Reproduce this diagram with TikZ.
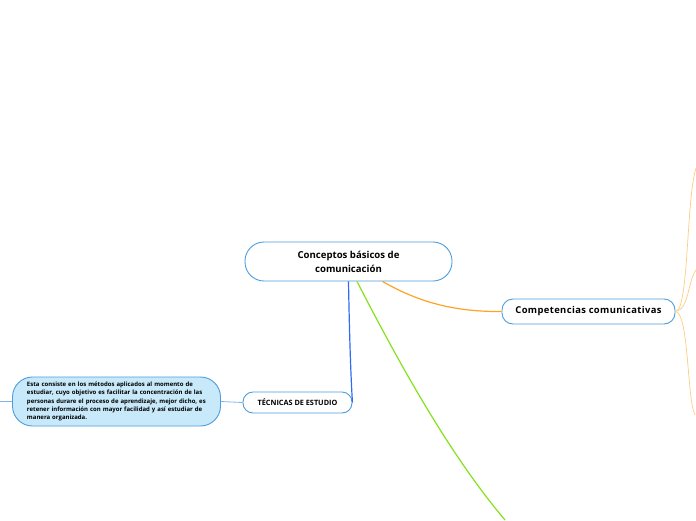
\documentclass[tikz,border=0pt]{standalone}
\usepackage{fontspec}
\setmainfont{Open Sans}
\usetikzlibrary{positioning,calc}

\definecolor{nodeborder}{HTML}{4D9DDE}
\definecolor{notefill}{HTML}{C8E9FA}
\definecolor{orangebranch}{HTML}{FFA226}
\definecolor{orangelight}{HTML}{FFCB82}
\definecolor{greenbranch}{HTML}{84E21C}
\definecolor{bluebranch}{HTML}{2E6CF2}
\definecolor{bluelight}{HTML}{7FB2EE}

\begin{document}
\begin{tikzpicture}[
    x=1pt, y=-1pt,
    topic/.style={draw=nodeborder, line width=0.9pt, fill=white, align=center, inner sep=0pt, font=\bfseries},
    note/.style={draw=nodeborder, line width=0.9pt, fill=notefill, align=left, inner sep=0pt, rounded corners=20pt, font=\fontsize{6}{8.4}\selectfont\bfseries},
    link/.style={draw, line width=1.2pt}
]
\useasboundingbox (0,0) rectangle (696,520);

\node[topic, rounded corners=19pt, minimum width=207pt, minimum height=39pt, font=\fontsize{9.6}{14}\selectfont\bfseries] (concepts) at (348.5,261.5) {Conceptos básicos de\\comunicación};

\node[topic, rounded corners=11pt, minimum width=173pt, minimum height=25pt, font=\fontsize{9.4}{11}\selectfont\bfseries\addfontfeatures{LetterSpace=4}] (competencias) at (588.5,311.5) {Competencias comunicativas};

\node[topic, rounded corners=10pt, minimum width=109pt, minimum height=21pt, font=\fontsize{7.3}{9}\selectfont\bfseries] (tecnicas) at (297.5,402.5) {TÉCNICAS DE ESTUDIO};

\node[note, minimum width=208pt, minimum height=49pt, text width=179pt] (definicion) at (116.5,401.5) {Esta consiste en los métodos aplicados al momento de\\
estudiar, cuyo objetivo es facilitar la concentración de las\\
personas durare el proceso de aprendizaje, mejor dicho, es\\
retener información con mayor facilidad y así estudiar de\\
manera organizada.};

\coordinate (greenend) at (505,520);
\coordinate (compa) at (696,168);
\coordinate (compb) at (696,270);
\coordinate (compc) at (695,415);
\coordinate (noteend) at (0,401.5);

% main branches
\draw[link, orangebranch] ([xshift=34pt]concepts.south) .. controls (415,300) and (450,312) .. (competencias.west);
\draw[link, greenbranch] ([xshift=8.5pt]concepts.south) .. controls (400,365) and (450,455) .. (greenend);
\draw[link, bluebranch] (concepts.south) .. controls (349.5,340) and (351,380) .. (tecnicas.east);

% sub branches
\draw[orangelight, line width=0.7pt] (competencias.east) .. controls (689,311) and (686,200) .. (compa);
\draw[orangelight, line width=0.7pt] (competencias.east) .. controls (689,310) and (688,280) .. (compb);
\draw[orangelight, line width=0.7pt] (competencias.east) .. controls (689,313) and (687,400) .. (compc);
\draw[bluelight, line width=0.8pt] (tecnicas.west) -- (definicion.east);
\draw[bluelight, line width=0.8pt] (definicion.west) -- (noteend);

\end{tikzpicture}
\end{document}
